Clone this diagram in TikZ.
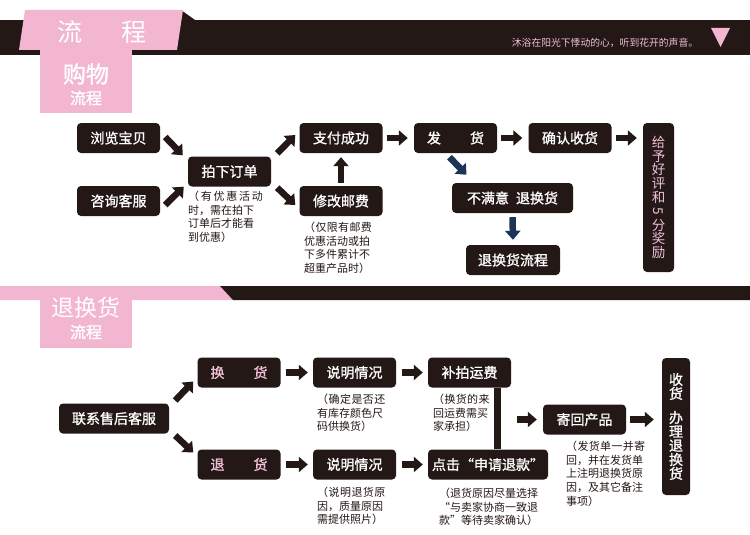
\documentclass[tikz,border=0pt]{standalone}
\usepackage{fontspec}
\usepackage{graphicx}
\usetikzlibrary{arrows.meta,calc}
\newfontfamily\cjk{Noto Sans CJK SC}
\newfontfamily\cjkb{Noto Sans CJK SC}[FakeBold=1.2]
\definecolor{dark}{RGB}{35,24,21}
\definecolor{pk}{RGB}{242,182,208}
\definecolor{pktext}{RGB}{240,192,216}
\definecolor{navy}{RGB}{28,52,86}
\tikzset{
 box/.style={fill=dark, rounded corners=4pt, text=white, font=\cjkb\fontsize{14}{14}\selectfont, inner sep=0pt, minimum height=30pt, minimum width=83pt},
 note/.style={anchor=north west, inner sep=0pt, align=left, text=dark, font=\cjk\fontsize{11}{13.6}\selectfont},
 barrow/.style={draw=dark, line width=6.5pt, -{Triangle[length=9pt,width=15pt]}},
 narrow/.style={barrow, draw=navy},
 vline/.style={draw=dark, line width=7pt},
}
\begin{document}
\begin{tikzpicture}[x=1pt,y=-1pt]
\useasboundingbox (0,0) rectangle (750,535);
\fill[white] (0,0) rectangle (750,535);
% ---- top banner
\fill[dark] (0,20) rectangle (750,55);
\fill[dark] (181,10) -- (195,20) -- (180,20) -- cycle;
\fill[pk] (25,10) -- (183,10) -- (177,50) -- (19,50) -- cycle;
\fill[pk] (40,50) rectangle (132,113);
\node[text=white, font=\cjk\fontsize{25}{25}\selectfont, inner sep=0pt] (hflow) at (102,32) {流\hspace{39pt}程};
\node[text=white, font=\cjkb\fontsize{23}{23}\selectfont, inner sep=0pt] (hbuy) at (86,74) {购物};
\node[text=white, font=\cjkb\fontsize{16}{16}\selectfont, inner sep=0pt] (hbuy2) at (86,98) {流程};
\node[text=pktext, font=\cjk\fontsize{9.8}{10}\selectfont, inner sep=0pt] (slogan) at (605,43) {沐浴在阳光下悸动的心，听到花开的声音。};
\fill[pk] (711,28) -- (730,28) -- (720.5,47) -- cycle;
% ---- second banner
\fill[pk] (0,286) -- (220,286) -- (233,300) -- (0,300) -- cycle;
\fill[dark] (220,286) -- (750,286) -- (750,300) -- (233,300) -- cycle;
\fill[pk] (40,300) rectangle (132,348);
\node[text=white, font=\cjk\fontsize{23}{23}\selectfont, inner sep=0pt] (hret) at (86,308) {退换货};
\node[text=white, font=\cjkb\fontsize{16}{16}\selectfont, inner sep=0pt] (hret2) at (86,332) {流程};
% ---- top flow
\node[box] (browse) at (118.5,138) {浏览宝贝};
\node[box] (consult) at (118.5,201) {咨询客服};
\node[box] (order) at (229.5,171.5) {拍下订单};
\node[box] (pay) at (341,138) {支付成功};
\node[box] (post) at (341,201) {修改邮费};
\node[box] (ship) at (455.5,138) {发\hspace{29pt}货};
\node[box] (confirm) at (570,138) {确认收货};
\node[box, minimum width=31pt, minimum height=149pt, text=pktext, align=center, font=\cjk\fontsize{13.5}{13.8}\selectfont] (praise) at (658.5,197.5) {给\\予\\好\\评\\和\\\rotatebox[origin=c]{-90}{5}\\分\\奖\\励};
\node[box, minimum width=121pt] (unsat) at (512.5,198) {不满意\hspace{7pt}退换货};
\node[box, minimum width=94pt] (retflow) at (513,260) {退换货流程};
\node[note] (n1) at (188,191) {\addfontfeature{LetterSpace=16}（有优惠活动\\时，需在拍下\\订单后才能看\\到优惠）};
\node[note] (n2) at (304,222) {\addfontfeature{LetterSpace=3}（仅限有邮费\\优惠活动或拍\\下多件累计不\\超重产品时）};
\draw[barrow] ($(browse.east)+(5,-1)$) -- ($(order.north west)+(-5,-1)$);
\draw[barrow] ($(consult.east)+(5,4)$) -- ($(order.south west)+(-4,0)$);
\draw[barrow] ($(order.north east)+(6,-3)$) -- ($(pay.west)+(-4,-3)$);
\draw[barrow] ($(order.south east)+(6,1)$) -- ($(post.west)+(-4,4)$);
\draw[barrow] ($(post.north)+(0,-3)$) -- ($(pay.south)+(0,4)$);
\draw[barrow] ($(pay.east)+(4,0)$) -- ($(ship.west)+(-6,0)$);
\draw[barrow] ($(ship.east)+(4,0)$) -- ($(confirm.west)+(-6,0)$);
\draw[barrow] ($(confirm.east)+(4,0)$) -- ($(confirm.east -| praise.west)+(-6,0)$);
\draw[narrow] ($(ship.south)+(-6,4)$) -- ($(unsat.north)+(-46,-8)$);
\draw[narrow] ($(unsat.south)+(0,4)$) -- ($(retflow.north)+(0,-5)$);
% ---- bottom flow
\node[box, minimum width=110pt] (contact) at (114,418.5) {联系售后客服};
\node[box, text=pktext] (exch) at (239,372.5) {换\hspace{29pt}货};
\node[box, text=pktext] (refund) at (239,464.5) {退\hspace{29pt}货};
\node[box] (explain1) at (354.5,372.5) {说明情况};
\node[box] (explain2) at (354.5,464.5) {说明情况};
\node[box] (fee) at (469.5,372.5) {补拍运费};
\node[box, minimum width=120pt] (apply) at (488,464.5) {点击“申请退款”};
\node[box] (sendback) at (584.5,419.5) {寄回产品};
\node[box, minimum width=28pt, minimum height=137pt, align=center, font=\cjkb\fontsize{14}{14}\selectfont] (receive) at (676,426.5) {收\\货\\[10pt]办\\理\\退\\换\\货};
\coordinate (vtop) at ([xshift=27.5pt]fee.south);
\coordinate (vmid) at (vtop |- sendback.west);
\draw[vline] (vtop) -- (vtop |- apply.north);
\node[note] (n3) at (317,394) {\addfontfeature{LetterSpace=4}（确定是否还\\有库存颜色尺\\码供换货）};
\node[note] (n4) at (317,487) {\addfontfeature{LetterSpace=4}（说明退货原\\因，质量原因\\需提供照片）};
\node[note] (n5) at (433,394) {\addfontfeature{LetterSpace=3}（换货的来\\回运费需买\\家承担）};
\node[note] (n6) at (439,488) {\addfontfeature{LetterSpace=0}（退货原因尽量选择\\“与卖家协商一致退\\款”等待卖家确认）};
\node[note] (n7) at (566,441) {\addfontfeature{LetterSpace=3}（发货单一并寄\\回，并在发货单\\上注明退换货原\\因，及其它备注\\事项）};
\draw[barrow] ($(contact.east)+(6,-18)$) -- ($(exch.west)+(-4,9)$);
\draw[barrow] ($(contact.east)+(6,17)$) -- ($(refund.west)+(-4,-12)$);
\draw[barrow] ($(exch.east)+(5,0)$) -- ($(explain1.west)+(-5,0)$);
\draw[barrow] ($(refund.east)+(5,0)$) -- ($(explain2.west)+(-5,0)$);
\draw[barrow] ($(explain1.east)+(6,0)$) -- ($(fee.west)+(-5,0)$);
\draw[barrow] ($(explain2.east)+(6,0)$) -- ($(apply.west)+(-5,0)$);
\draw[barrow] ($(vmid)+(20,0)$) -- ($(sendback.west)+(-6,0)$);
\draw[barrow] ($(sendback.east)+(4,0)$) -- ($(sendback.east -| receive.west)+(-8,0)$);
\end{tikzpicture}
\end{document}
